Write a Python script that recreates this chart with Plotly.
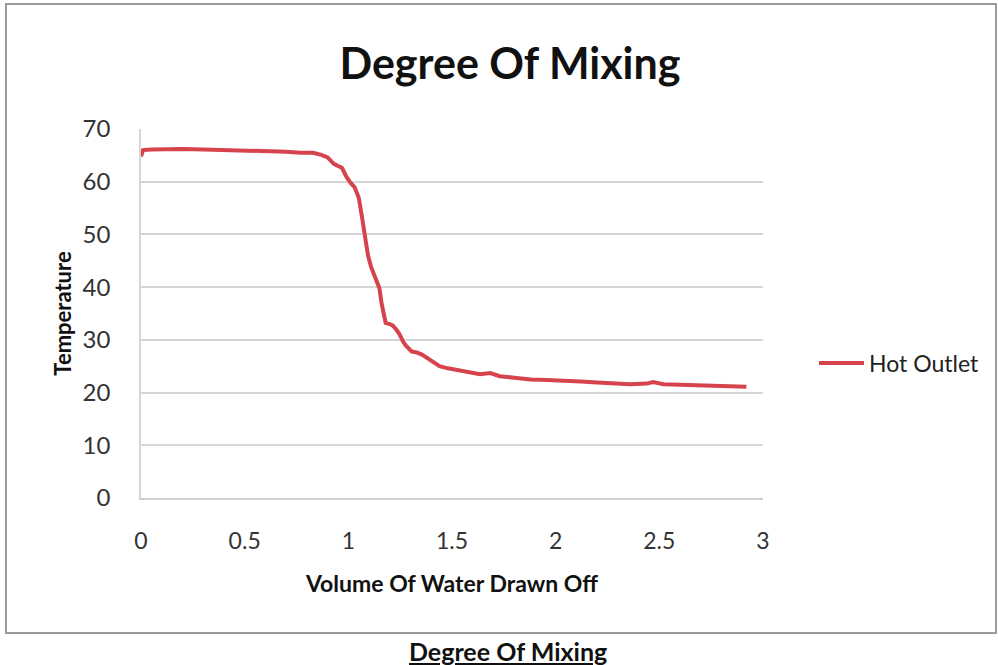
import plotly.graph_objects as go

# Data
volume = [0.0, 0.01, 0.05, 0.12, 0.2, 0.3, 0.45, 0.6, 0.7, 0.77, 0.83, 0.87, 0.9, 0.93,
          0.95, 0.97, 0.99, 1.01, 1.03, 1.05, 1.065, 1.08, 1.095, 1.11, 1.13, 1.15, 1.16,
          1.17, 1.18, 1.2, 1.215, 1.23, 1.245, 1.265, 1.28, 1.305, 1.33, 1.355, 1.395,
          1.44, 1.48, 1.52, 1.58, 1.635, 1.685, 1.73, 1.8, 1.88, 1.96, 2.04, 2.12, 2.2,
          2.28, 2.36, 2.44, 2.47, 2.52, 2.6, 2.68, 2.76, 2.84, 2.92]
hot_outlet = [64.8, 66.0, 66.1, 66.2, 66.2, 66.1, 66.0, 65.9, 65.7, 65.5, 65.5, 65.1,
              64.6, 63.4, 63.0, 62.6, 61.0, 59.8, 59.0, 57.0, 53.5, 49.6, 46.0, 43.8,
              42.0, 39.8, 37.0, 34.5, 33.2, 33.0, 32.7, 32.0, 31.2, 29.6, 28.8, 27.8,
              27.6, 27.2, 26.2, 25.0, 24.6, 24.3, 23.9, 23.5, 23.7, 23.1, 22.8, 22.5,
              22.4, 22.3, 22.1, 21.9, 21.8, 21.6, 21.7, 22.0, 21.6, 21.5, 21.4, 21.3,
              21.2, 21.1]
x_ticks = [0, 0.5, 1, 1.5, 2, 2.5, 3]
x_tick_labels = ["0", "0.5", "1", "1.5", "2", "2.5", "3"]
y_ticks = [0, 10, 20, 30, 40, 50, 60, 70]

W, H = 998, 665
L, R, T, B = 141, 235, 129, 167
pw, ph = W - L - R, H - T - B


def px_x(p):
    return (p - L) / pw


def px_y(p):
    return (H - B - p) / ph


fig = go.Figure()
fig.add_trace(go.Scatter(
    x=volume, y=hot_outlet, mode="lines", name="Hot Outlet",
    line=dict(color="#d6434c", width=4),
))

font_main = "Lato"
fig.update_layout(
    width=W, height=H,
    margin=dict(l=L, r=R, t=T, b=B),
    paper_bgcolor="white", plot_bgcolor="white",
    title=dict(text="<b>Degree Of Mixing</b>", x=510 / W, xref="container", xanchor="center",
               y=1 - 64 / H, yref="container", yanchor="middle",
               font=dict(family=font_main, size=43, color="#111111")),
    showlegend=True,
    legend=dict(x=px_x(814), y=px_y(363), xanchor="left", yanchor="middle",
                font=dict(family=font_main, size=23, color="#222222"),
                bgcolor="rgba(0,0,0,0)", itemwidth=45),
    font=dict(family=font_main, color="#333333"),
)

fig.update_xaxes(
    range=[0, 3], tickvals=x_ticks, ticktext=x_tick_labels,
    showgrid=False, zeroline=False,
    showline=True, linecolor="#cfcfcf", linewidth=1.5,
    ticks="", ticklabelstandoff=22,
    tickfont=dict(family=font_main, size=23, color="#333333"),
    title=dict(text="<b>Volume Of Water Drawn Off</b>", standoff=23,
               font=dict(family=font_main, size=23, color="#111111")),
)
fig.update_yaxes(
    range=[0, 70], tickvals=y_ticks,
    showgrid=True, gridcolor="#d6d6d6", gridwidth=1.5, zeroline=False,
    showline=True, linecolor="#d6d6d6", linewidth=1.5,
    ticks="", ticklabelstandoff=24,
    tickfont=dict(family=font_main, size=24, color="#333333"),
    title=dict(text="<b>Temperature</b>", standoff=5,
               font=dict(family=font_main, size=22, color="#111111")),
)

# outer chart border
fig.add_shape(type="rect", xref="paper", yref="paper",
              x0=px_x(6), x1=px_x(996), y0=px_y(633), y1=px_y(4),
              line=dict(color="#9a9a9a", width=2), fillcolor="rgba(0,0,0,0)", layer="below")

# caption under the chart
fig.add_annotation(text="<b><u>Degree Of Mixing</u></b>", xref="paper", yref="paper",
                   x=px_x(508), y=px_y(651), xanchor="center", yanchor="middle",
                   showarrow=False, font=dict(family=font_main, size=25, color="#111111"))

fig.write_html("out.html")
